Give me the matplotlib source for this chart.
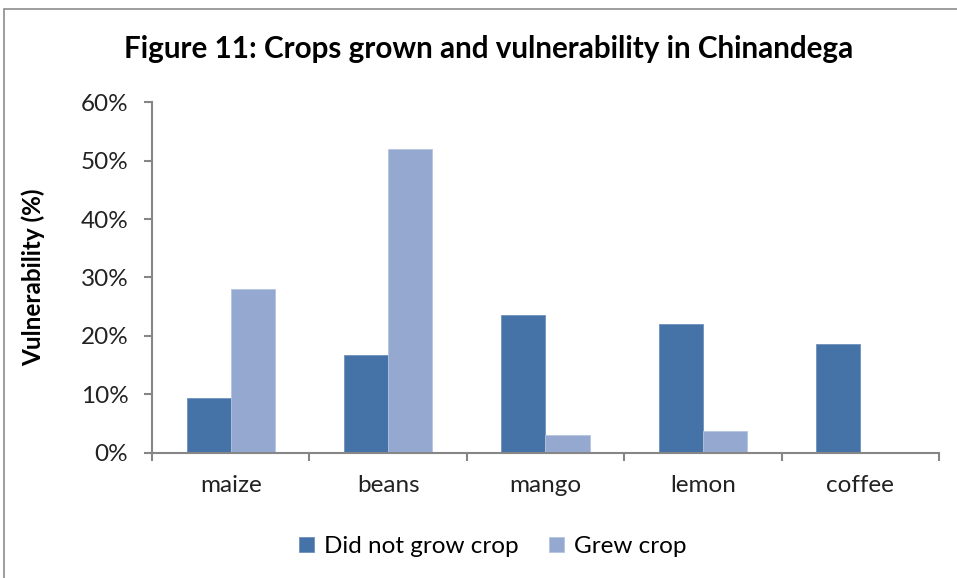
import numpy as np
import matplotlib.pyplot as plt
from matplotlib.patches import Rectangle
from matplotlib.ticker import FixedLocator, PercentFormatter

plt.rcParams['font.family'] = ['Lato', 'DejaVu Sans']

crops = ['maize', 'beans', 'mango', 'lemon', 'coffee']
did_not_grow = [9.4, 16.8, 23.6, 22.1, 18.6]
grew = [28.0, 51.9, 3.1, 3.8, 0.0]

dark = '#4572A7'
light = '#95A9D0'
axis_grey = '#868686'

fig = plt.figure(figsize=(9.57, 5.78), dpi=100)
ax = fig.add_axes([0.1588, 0.2163, 0.8224, 0.6072])

# outer chart frame
fig.patches.append(Rectangle((4 / 957, -0.05), 1.2, 1 - 9 / 578 + 0.05,
                             transform=fig.transFigure, fill=False,
                             edgecolor='#8c8c8c', linewidth=1.2))

x = np.arange(len(crops))
w = 0.28
ax.bar(x - w / 2, did_not_grow, w, color=dark, edgecolor='#6f90bd',
       linewidth=0.6, label='Did not grow crop')
ax.bar(x + w / 2, grew, w, color=light, edgecolor='#b4c4e0',
       linewidth=0.6, label='Grew crop')

ax.set_xlim(-0.5, len(crops) - 0.5)
ax.set_ylim(0, 60)
ax.set_yticks(np.arange(0, 61, 10))
ax.yaxis.set_major_formatter(PercentFormatter(decimals=0))
ax.set_xticks(x)
ax.set_xticklabels(crops)
ax.xaxis.set_minor_locator(FixedLocator(np.arange(-0.5, len(crops), 1)))

for side in ['top', 'right']:
    ax.spines[side].set_visible(False)
for side in ['left', 'bottom']:
    ax.spines[side].set_color(axis_grey)
    ax.spines[side].set_linewidth(1.5)

ax.tick_params(axis='y', length=6, width=1.5, color=axis_grey,
               labelsize=17.5, pad=11, labelcolor='#222222')
ax.tick_params(axis='x', which='major', length=0, labelsize=17.5, pad=16,
               labelcolor='#222222')
ax.tick_params(axis='x', which='minor', length=6, width=1.5, color=axis_grey)

ax.set_ylabel('Vulnerability (%)', fontsize=17.5, fontweight='bold')
ax.yaxis.set_label_coords(-0.136, 0.5)

fig.text(0.511, 0.915, 'Figure 11: Crops grown and vulnerability in Chinandega',
         ha='center', va='center', fontsize=21.3, fontweight='bold')

ax.legend(loc='center', bbox_to_anchor=(0.433, -0.266), ncol=2, frameon=False,
          fontsize=17.5, handlelength=0.6, handleheight=0.6, handletextpad=0.4,
          columnspacing=1.27)

fig.savefig('out.png', dpi=100)
